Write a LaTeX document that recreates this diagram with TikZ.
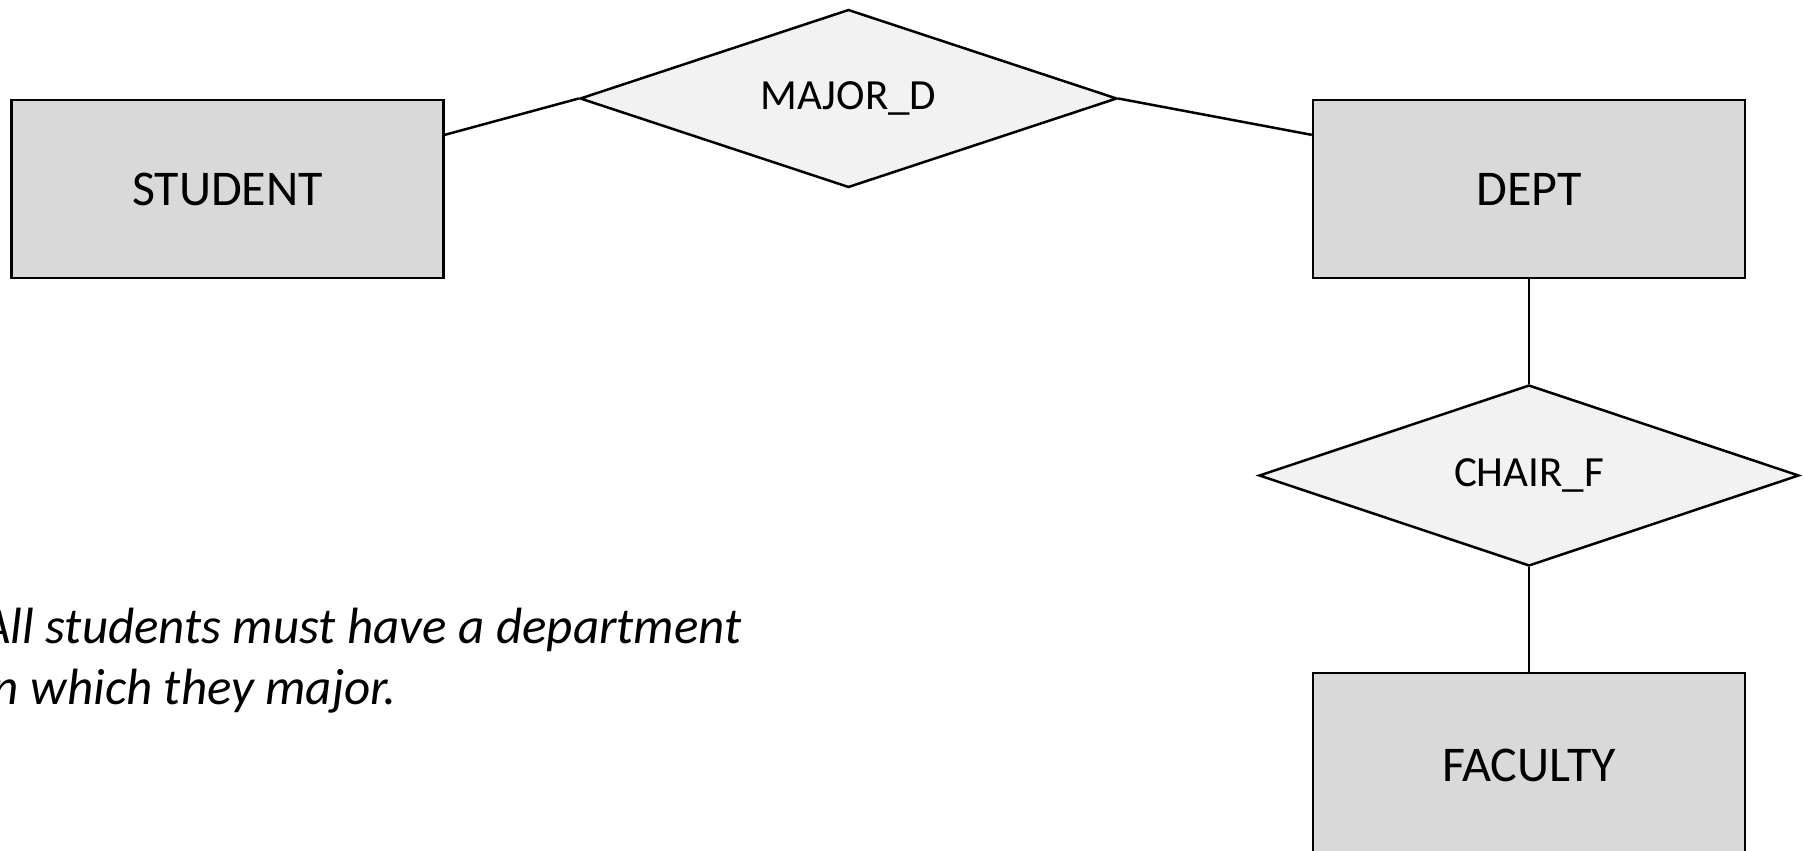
\documentclass[tikz,border=0pt]{standalone}
\usepackage{fontspec}
\setmainfont{Carlito}
\usepackage{tikz}
\usetikzlibrary{shapes.geometric,calc}
\definecolor{entityfill}{HTML}{D9D9D9}
\definecolor{relfill}{HTML}{F2F2F2}

\begin{document}
\begin{tikzpicture}[
  x = 0.5pt, y = -0.5pt,
  line width = 1.25pt,
  entity/.style = {draw, fill = entityfill, rectangle, inner sep = 0pt,
    minimum width = 216pt, minimum height = 89pt,
    font = \fontsize{25}{30}\selectfont},
  relation/.style = {draw, fill = relfill, diamond, aspect = 3, inner sep = 0pt,
    font = \fontsize{21.5}{26}\selectfont},
  note/.style = {align = left, inner sep = 0pt,
    font = \fontsize{25.5}{30.5}\selectfont\itshape}
  ]
  \useasboundingbox (0,0) rectangle (1804,851);
  \clip (0,0) rectangle (1804,851);

  % entities
  \node[entity] (student) at (227.5,189) {STUDENT};
  \node[entity] (dept) at (1529,189) {DEPT};
  \node[entity, minimum height = 92pt] (faculty) at (1529,765) {FACULTY};

  % relationships
  \node[relation, minimum width = 268.5pt, minimum height = 89pt]
    (major) at (848.5,98.5) {MAJOR\_D};
  \node[relation, minimum width = 270pt, minimum height = 90.5pt]
    (chair) at (1529,475.5) {CHAIR\_F};

  \draw ($(student.north east)!0.2!(student.south east)$) -- (major.west);
  \draw (major.east) -- ($(dept.north west)!0.2!(dept.south west)$);
  \draw (dept.south) -- (chair.north);
  \draw (chair.south) -- (faculty.north);

  \node[note, anchor = base west] (rule) at (-20,704)
    {All students must have a department\\in which they major.};
\end{tikzpicture}
\end{document}
